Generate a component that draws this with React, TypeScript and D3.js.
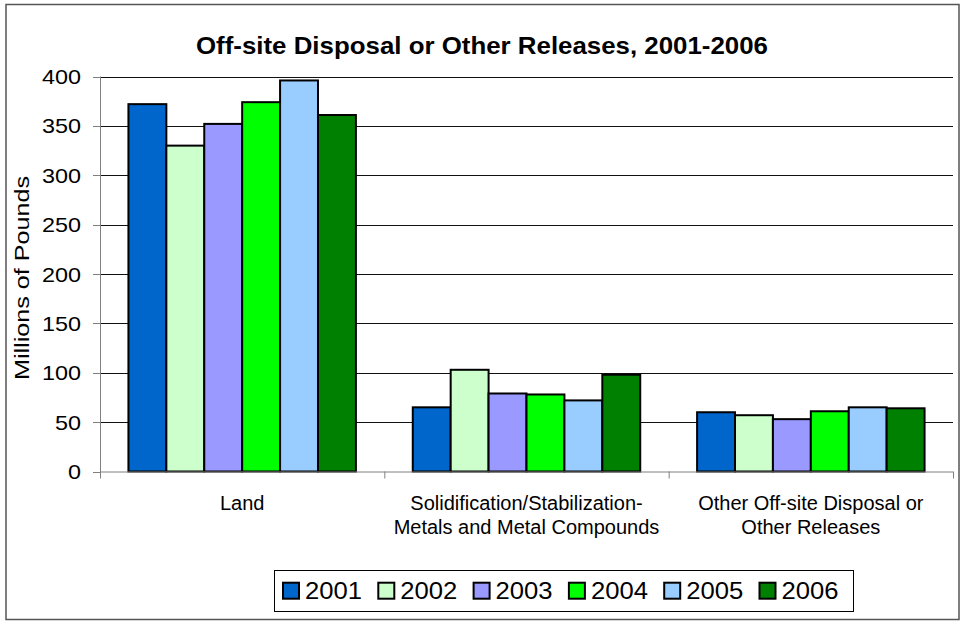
import React from "react";
import * as d3 from "d3";

const categories = ["Land", "Solidification/Stabilization-\nMetals and Metal Compounds", "Other Off-site Disposal or\nOther Releases"];
const years = ["2001", "2002", "2003", "2004", "2005", "2006"];
const colors = ["#0066CC", "#CCFFCC", "#9999FF", "#00FF00", "#99CCFF", "#008000"];
const v2001 = [372, 65, 60];
const v2002 = [330, 103, 57];
const v2003 = [352, 79, 53];
const v2004 = [374, 78, 61];
const v2005 = [396, 72, 65];
const v2006 = [361, 98, 64];
const series = [v2001, v2002, v2003, v2004, v2005, v2006];
const yTicks = [0, 50, 100, 150, 200, 250, 300, 350, 400];

export default function App() {
  const W = 964, H = 622;
  const left = 100, right = 953, top = 76.5, bottom = 471.5;
  const x0 = d3.scaleBand().domain(categories).range([left, right]).paddingInner(0).paddingOuter(0);
  const catW = x0.bandwidth();
  const barW = catW / 7.5;
  const y = d3.scaleLinear().domain([0, 400]).range([bottom, top]);
  const font = "Arial, 'Liberation Sans', sans-serif";

  return (
    <svg width={W} height={H} style={{ position: "absolute", left: 0, top: 0, fontFamily: font }}>
      <rect x={0} y={0} width={W} height={H} fill="#fff" />
      <rect x={6} y={4.5} width={953} height={615} fill="none" stroke="#555" strokeWidth={1.5} />
      <text x={482} y={54} textAnchor="middle" fontSize={24} fontWeight="bold" textLength={572} lengthAdjust="spacingAndGlyphs">Off-site Disposal or Other Releases, 2001-2006</text>
      {yTicks.map((t) => (
        <g key={t}>
          {t > 0 && <line x1={left} x2={right} y1={Math.round(y(t)) + 0.5} y2={Math.round(y(t)) + 0.5} stroke="#111" strokeWidth={1} />}
          <line x1={left - 7} x2={left} y1={Math.round(y(t)) + 0.5} y2={Math.round(y(t)) + 0.5} stroke="#808080" />
          <text x={81} y={y(t) + 7.5} textAnchor="end" fontSize={21} textLength={13 * String(t).length} lengthAdjust="spacingAndGlyphs">{t}</text>
        </g>
      ))}
      <text transform={`translate(29,278) rotate(-90)`} textAnchor="middle" fontSize={21} textLength={204} lengthAdjust="spacingAndGlyphs">Millions of Pounds</text>
      {categories.map((c, ci) => (
        <g key={c}>
          {series.map((s, si) => {
            const bx = (x0(c) as number) + barW * 0.75 + si * barW;
            return (
              <rect key={si} x={bx} y={y(s[ci])} width={barW} height={bottom - y(s[ci])} fill={colors[si]} stroke="#000" strokeWidth={2} />
            );
          })}
          {c.split("\n").map((line, li) => (
            <text key={li} x={(x0(c) as number) + catW / 2} y={510 + li * 24} textAnchor="middle" fontSize={20}>{line}</text>
          ))}
        </g>
      ))}
      <line x1={left + 0.5} x2={left + 0.5} y1={top} y2={bottom + 5} stroke="#808080" />
      <line x1={left} x2={right} y1={bottom + 0.5} y2={bottom + 0.5} stroke="#808080" />
      {[0, 1, 2, 3].map((i) => (
        <line key={i} x1={left + i * catW + 0.5} x2={left + i * catW + 0.5} y1={bottom} y2={bottom + 7} stroke="#808080" />
      ))}
      <rect x={274.5} y={570.5} width={579} height={41} fill="#fff" stroke="#000" strokeWidth={1} />
      {years.map((yr, i) => (
        <g key={yr}>
          <rect x={283 + i * 95.3} y={582.7} width={16} height={16} fill={colors[i]} stroke="#000" strokeWidth={2} />
          <text x={305 + i * 95.3} y={599} fontSize={23} textLength={57} lengthAdjust="spacingAndGlyphs">{yr}</text>
        </g>
      ))}
    </svg>
  );
}
